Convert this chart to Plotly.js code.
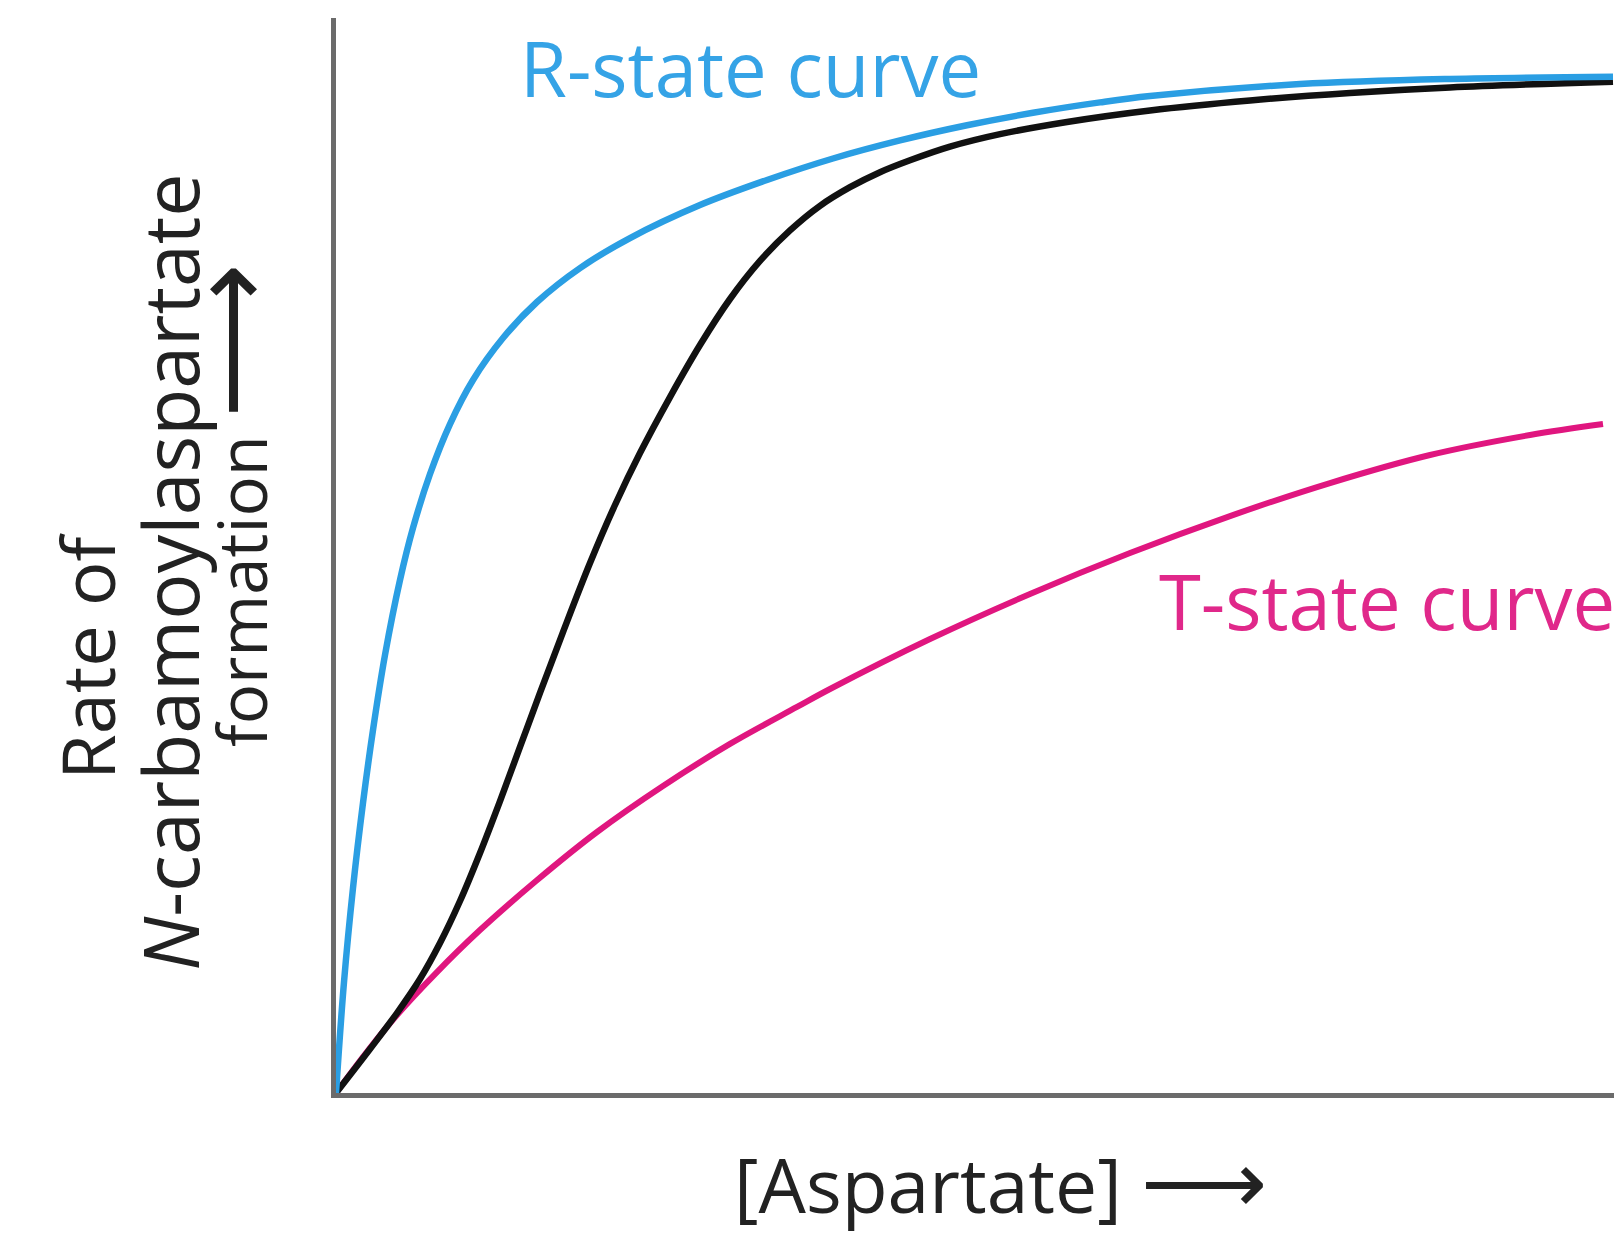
<!DOCTYPE html>
<html>
<head>
<meta charset="utf-8">
<script src="https://cdn.plot.ly/plotly-3.0.1.min.js"></script>
<style>
  html, body { margin: 0; padding: 0; background: #ffffff; }
  #chart { width: 1617px; height: 1240px; }
</style>
</head>
<body>
<div id="chart"></div>
<script>
// ---- Data (x = [Aspartate], y = rate, arbitrary units 0-100) ----
const rStateX = [0, 0.626, 1.330, 2.113, 2.895, 3.834, 5.008, 6.025, 7.355, 8.920, 10.720, 13.067, 15.728, 19.092, 23.005, 28.482, 33.725, 38.889, 44.131, 49.374, 54.538, 59.781, 63.693, 75.430, 87.167, 99.922];
const rStateY = [0, 10.33, 19.07, 26.98, 33.77, 40.74, 47.72, 52.56, 57.58, 62.23, 66.33, 70.23, 73.58, 76.74, 79.53, 82.60, 84.93, 86.93, 88.61, 90.02, 91.18, 92.15, 92.74, 93.85, 94.33, 94.53];

const observedX = [0, 2.660, 4.773, 6.573, 8.138, 9.703, 11.268, 12.833, 14.398, 15.962, 17.762, 19.875, 21.831, 23.787, 26.135, 28.482, 30.829, 33.177, 35.524, 37.872, 40.219, 42.567, 44.914, 48.044, 51.956, 57.199, 63.693, 71.518, 79.343, 87.167, 99.922];
const observedY = [0, 4.09, 7.44, 10.60, 13.95, 17.86, 22.33, 27.16, 32.19, 37.21, 42.88, 49.30, 54.70, 59.53, 64.74, 69.58, 73.86, 77.40, 80.24, 82.53, 84.26, 85.66, 86.77, 88.04, 89.20, 90.33, 91.40, 92.33, 93.03, 93.54, 94.07];

const tStateX = [0, 2.347, 4.773, 7.825, 11.268, 15.649, 20.423, 25.587, 30.829, 36.072, 38.654, 46.479, 54.304, 62.128, 69.953, 77.778, 85.603, 93.427, 99.139];
const tStateY = [0, 3.72, 7.26, 11.16, 15.16, 19.72, 24.28, 28.56, 32.47, 35.91, 37.58, 42.23, 46.42, 50.23, 53.67, 56.74, 59.35, 61.21, 62.23];

const labelR = "R-state curve";
const labelT = "T-state curve";
const yTitleLines = ["Rate of", "<i>N</i>-carbamoylaspartate", "formation"];
const xTitleWord = "[Aspartate]";
const ARROW = "\u27F6";

// ---- Styles ----
const BLUE = "#2a9ee3";
const BLUE_TEXT = "#35a3e6";
const PINK = "#e0167f";
const PINK_TEXT = "#e0288a";
const BLACK = "#111111";
const AXIS = "#6b6b6b";
const TEXT = "#222222";
const FONT = "Open Sans, Noto Sans, sans-serif";

const traces = [
  { x: tStateX, y: tStateY, mode: "lines", line: { color: PINK, width: 6, shape: "spline", smoothing: 1 }, hoverinfo: "skip", name: labelT },
  { x: observedX, y: observedY, mode: "lines", line: { color: BLACK, width: 6.5, shape: "spline", smoothing: 1 }, hoverinfo: "skip", name: "observed" },
  { x: rStateX, y: rStateY, mode: "lines", line: { color: BLUE, width: 6.5, shape: "spline", smoothing: 1 }, hoverinfo: "skip", name: labelR }
];

const axisCommon = {
  showgrid: false, zeroline: false, showticklabels: false, ticks: "",
  showline: true, linecolor: AXIS, linewidth: 5, fixedrange: true
};

const layout = {
  width: 1617, height: 1240,
  margin: { l: 336, r: 3, t: 18, b: 147, pad: 0 },
  paper_bgcolor: "#ffffff", plot_bgcolor: "#ffffff",
  showlegend: false,
  xaxis: Object.assign({ range: [0, 100] }, axisCommon),
  yaxis: Object.assign({ range: [0, 100] }, axisCommon),
  annotations: [
    { text: labelR, xref: "paper", yref: "paper", x: 0.3247, y: 0.954, xanchor: "center", yanchor: "middle",
      showarrow: false, font: { family: FONT, size: 76, color: BLUE_TEXT } },
    { text: labelT, xref: "paper", yref: "paper", x: 0.822, y: 0.458, xanchor: "center", yanchor: "middle",
      showarrow: false, font: { family: FONT, size: 76, color: PINK_TEXT } },
    { text: yTitleLines[0], xref: "paper", yref: "paper", x: -0.1948, y: 0.4056, xanchor: "center", yanchor: "middle",
      textangle: -90, showarrow: false, font: { family: FONT, size: 74, color: TEXT } },
    { text: yTitleLines[1], xref: "paper", yref: "paper", x: -0.1299, y: 0.4847, xanchor: "center", yanchor: "middle",
      textangle: -90, showarrow: false, font: { family: FONT, size: 77, color: TEXT } },
    { text: yTitleLines[2] + " <span style=\"font-size:108px\">" + ARROW + "</span>", xref: "paper", yref: "paper",
      x: -0.0865, y: 0.5475, xanchor: "center", yanchor: "middle",
      textangle: -90, showarrow: false, font: { family: FONT, size: 67, color: TEXT } },
    { text: xTitleWord + " <span style=\"font-size:88px\">" + ARROW + "</span>", xref: "paper", yref: "paper",
      x: 0.5196, y: -0.080, xanchor: "center", yanchor: "middle",
      showarrow: false, font: { family: FONT, size: 75, color: TEXT } }
  ]
};

Plotly.newPlot("chart", traces, layout, { staticPlot: true, displayModeBar: false });
</script>
</body>
</html>
